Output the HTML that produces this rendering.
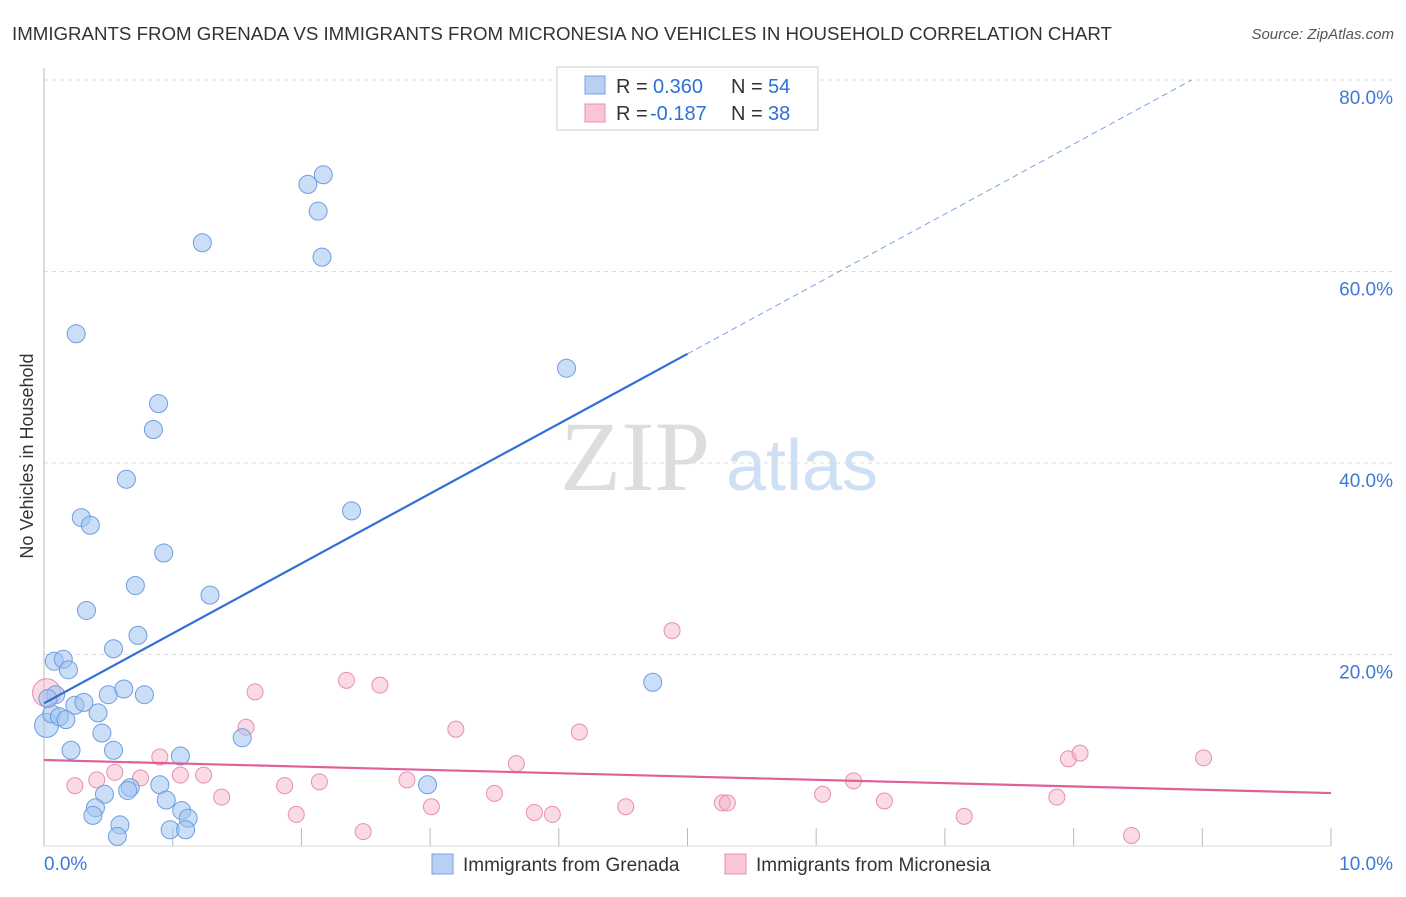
<!DOCTYPE html>
<html><head><meta charset="utf-8"><style>
body{margin:0;background:#fff;font-family:"Liberation Sans",sans-serif;}
</style></head><body>
<svg id="chart" width="1406" height="892" viewBox="0 0 1406 892" font-family="Liberation Sans, sans-serif">
<text x="12" y="40" font-size="18.7" fill="#333">IMMIGRANTS FROM GRENADA VS IMMIGRANTS FROM MICRONESIA NO VEHICLES IN HOUSEHOLD CORRELATION CHART</text>
<text x="1394" y="39" font-size="15" fill="#555" text-anchor="end" font-style="italic">Source: ZipAtlas.com</text>
<text x="33" y="456" font-size="18" fill="#333" text-anchor="middle" transform="rotate(-90 33 456)">No Vehicles in Household</text>
<g>
<text x="635" y="490" font-size="100" fill="#ddd" text-anchor="middle" style="font-family:'Liberation Serif',serif">ZIP</text>
<text x="802" y="490" font-size="72" fill="#cfe0f5" text-anchor="middle">atlas</text>
</g>
<g id="grid"></g><g id="axes"></g><g id="marks"></g>
<g>
<rect x="557" y="67" width="261" height="63" fill="#fff" stroke="#ccc"/>
<rect x="585" y="76" width="20" height="18" fill="#b7d0f4" stroke="#7aa3e0"/>
<rect x="585" y="104" width="20" height="18" fill="#f8c6d6" stroke="#e88fae"/>
<text x="616" y="93" font-size="20" fill="#333">R =</text>
<text x="653" y="93" font-size="20" fill="#2f6fd6">0.360</text>
<text x="731" y="93" font-size="20" fill="#333">N =</text>
<text x="768" y="93" font-size="20" fill="#2f6fd6">54</text>
<text x="616" y="120" font-size="20" fill="#333">R =</text>
<text x="650" y="120" font-size="20" fill="#2f6fd6">-0.187</text>
<text x="731" y="120" font-size="20" fill="#333">N =</text>
<text x="768" y="120" font-size="20" fill="#2f6fd6">38</text>
</g>
<g>
<rect x="432" y="854" width="21" height="20" fill="#b7d0f4" stroke="#7aa3e0"/>
<text x="463" y="871" font-size="19" fill="#333">Immigrants from Grenada</text>
<rect x="725" y="854" width="21" height="20" fill="#f8c6d6" stroke="#e88fae"/>
<text x="756" y="871" font-size="19" fill="#333">Immigrants from Micronesia</text>
</g>
</svg>
<script>
const yTicks=[20,40,60,80];
const yTickLabels=["20.0%","40.0%","60.0%","80.0%"];
const xTicks=[0,1,2,3,4,5,6,7,8,9,10];
const grenadaX=[0.08,0.15,0.19,0.09,0.02,0.06,0.12,0.17,0.24,0.31,0.21,0.42,0.45,0.54,0.50,0.62,0.78,0.54,0.73,0.71,0.33,0.29,0.36,0.64,0.93,0.85,0.89,0.25,1.23,2.05,2.17,2.13,2.16,1.29,2.39,4.06,4.73,1.54,1.06,0.67,0.65,0.90,0.47,0.40,0.38,0.59,0.57,0.95,1.07,1.12,0.98,1.10,2.98,0.03];
const grenadaY=[19.3,19.5,18.4,15.8,12.6,13.8,13.5,13.2,14.7,15.0,10.0,13.9,11.8,10.0,15.8,16.4,15.8,20.6,22.0,27.2,24.6,34.3,33.5,38.3,30.6,43.5,46.2,53.5,63.0,69.1,70.1,66.3,61.5,26.2,35.0,49.9,17.1,11.3,9.4,6.1,5.8,6.4,5.4,4.0,3.2,2.2,1.0,4.8,3.7,2.9,1.7,1.7,6.4,15.4];
const microX=[0.02,0.24,0.41,0.55,0.75,0.90,1.06,1.24,1.38,1.64,1.57,1.87,1.96,2.14,2.35,2.61,2.48,2.82,3.01,3.20,3.50,3.67,3.81,3.95,4.16,4.52,4.88,5.27,5.31,6.05,6.29,6.53,7.15,7.87,7.96,8.05,8.45,9.01];
const microY=[16.0,6.3,6.9,7.7,7.1,9.3,7.4,7.4,5.1,16.1,12.4,6.3,3.3,6.7,17.3,16.8,1.5,6.9,4.1,12.2,5.5,8.6,3.5,3.3,11.9,4.1,22.5,4.5,4.5,5.4,6.8,4.7,3.1,5.1,9.1,9.7,1.1,9.2];
const grenadaTrend=[14.9,7.3];
const microTrend=[8.98,-0.345];
const NS="http://www.w3.org/2000/svg";
const X=v=>44+v*128.7, Y=v=>846-v*9.575;
function mk(parent,tag,attrs){const e=document.createElementNS(NS,tag);for(const k in attrs)e.setAttribute(k,attrs[k]);document.getElementById(parent).appendChild(e);return e;}
yTicks.forEach((t,i)=>{
 const g=mk('grid','line',{x1:44,x2:1394,y1:Y(t),y2:Y(t),stroke:'#ddd','stroke-dasharray':'4,4'});
 
 
 const l=mk('axes','text',{x:1393,y:Y(t)+24,'font-size':19,fill:'#3f78d6','text-anchor':'end'});l.textContent=yTickLabels[i];
 
 
});
const ax=mk('axes','line',{x1:44,x2:44,y1:68,y2:846,stroke:'#bbb'});


const bx=mk('axes','line',{x1:44,x2:1331,y1:846,y2:846,stroke:'#ddd'});


xTicks.forEach(t=>{const e=mk('axes','line',{x1:X(t),x2:X(t),y1:828,y2:846,stroke:'#bbb'});
 
 });
const x0=mk('axes','text',{x:44,y:870,'font-size':19,fill:'#3f78d6'});x0.textContent='0.0%';


const x1=mk('axes','text',{x:1393,y:870,'font-size':19,fill:'#3f78d6','text-anchor':'end'});x1.textContent='10.0%';


microX.forEach((x,i)=>{const c=mk('marks','circle',{cx:X(x),cy:Y(microY[i]),r:i==0?14:8,fill:'rgba(244,172,196,0.45)',stroke:'#e88fae','stroke-width':1});
 
 });
grenadaX.forEach((x,i)=>{const c=mk('marks','circle',{cx:X(x),cy:Y(grenadaY[i]),r:i==4?12:9,fill:'rgba(160,194,240,0.55)',stroke:'#6f9ddf','stroke-width':1});
 
 });
const gt=v=>grenadaTrend[0]+grenadaTrend[1]*v;
const l1=mk('marks','line',{x1:X(0),y1:Y(gt(0)),x2:X(5),y2:Y(gt(5)),stroke:'#2f6fd6','stroke-width':2.2});


const xe=(80-grenadaTrend[0])/grenadaTrend[1];
const l2=mk('marks','line',{x1:X(5),y1:Y(gt(5)),x2:X(xe),y2:Y(gt(xe)),stroke:'#7aa3e0','stroke-width':1,'stroke-dasharray':'6,4'});


const mt=v=>microTrend[0]+microTrend[1]*v;
const l3=mk('marks','line',{x1:X(0),y1:Y(mt(0)),x2:X(10),y2:Y(mt(10)),stroke:'#e0609a','stroke-width':2.2});


</script>
</body></html>
